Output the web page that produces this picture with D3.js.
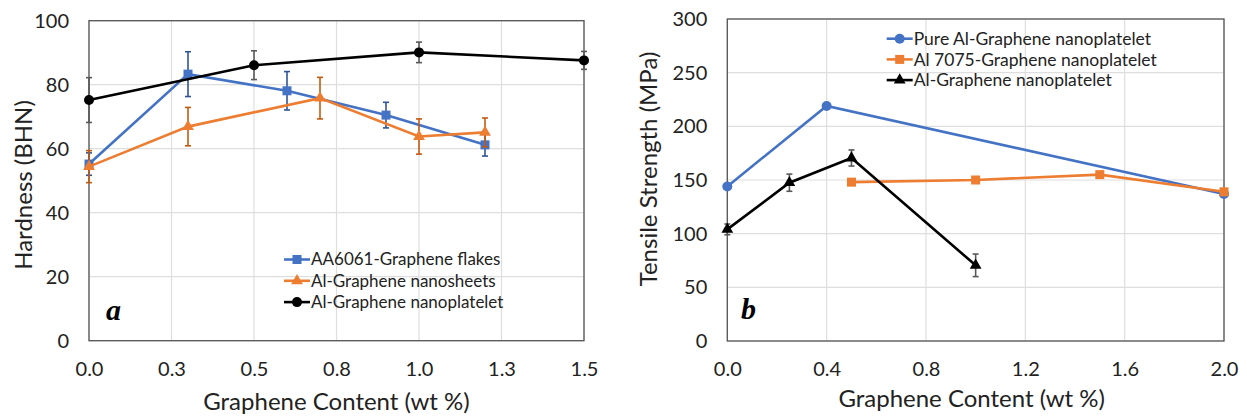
<!DOCTYPE html>
<html>
<head>
<meta charset="utf-8">
<script src="https://cdn.jsdelivr.net/npm/d3@7"></script>
<style>
  body { margin: 0; background: #fff; }
  svg { display: block; font-family: Lato, "Open Sans", sans-serif; }
</style>
</head>
<body>
<svg width="1247" height="419"></svg>
<script>
// panel a - hardness
var hardTicks = [0, 0.25, 0.5, 0.75, 1.0, 1.25, 1.5];
var hardTickLabels = ["0.0", "0.3", "0.5", "0.8", "1.0", "1.3", "1.5"];
var hardYTicks = [0, 20, 40, 60, 80, 100];

var flakesX = [0, 0.3, 0.6, 0.9, 1.2];
var flakesY = [55.2, 83.3, 78.1, 70.5, 61.2];
var flakesErr = [3.5, 7, 6, 4, 3.5];

var sheetsX = [0, 0.3, 0.7, 1.0, 1.2];
var sheetsY = [54.4, 66.9, 75.8, 63.8, 65.1];
var sheetsErr = [5, 6, 6.5, 5.5, 4.5];

var plateletX = [0, 0.5, 1.0, 1.5];
var plateletY = [75.2, 86.1, 90.1, 87.6];
var plateletErr = [7, 4.5, 3.2, 2.8];

// panel b - tensile strength
var tensTicks = [0, 0.4, 0.8, 1.2, 1.6, 2.0];
var tensTickLabels = ["0.0", "0.4", "0.8", "1.2", "1.6", "2.0"];
var tensYTicks = [0, 50, 100, 150, 200, 250, 300];

var pureX = [0, 0.4, 2.0];
var pureY = [144, 219, 137];

var a7075X = [0.5, 1.0, 1.5, 2.0];
var a7075Y = [148, 150, 155, 139];

var alX = [0, 0.25, 0.5, 1.0];
var alY = [104, 147.5, 170.5, 70.5];
var alErr = [5, 8, 7.5, 10.5];

var BLUE = "#4472C4", ORANGE = "#ED7D31", BLACK = "#000";

var svg = d3.select("svg");

function pts(xs, ys, es) {
    return xs.map((x, i) => ({ x: x, y: ys[i], e: es ? es[i] : null }));
}

function marker(g, shape, color, cx, cy) {
    if (shape == "square") {
        g.append("rect").attr("x", cx - 4.5).attr("y", cy - 4.5)
            .attr("width", 9).attr("height", 9).attr("fill", color);
    } else if (shape == "circle") {
        g.append("circle").attr("cx", cx).attr("cy", cy).attr("r", 5).attr("fill", color);
    } else {
        g.append("path").attr("transform", `translate(${cx},${cy})`)
            .attr("d", d3.symbol(d3.symbolTriangle, 60)()).attr("fill", color);
    }
}

function drawPanel(cfg) {
    var x = d3.scaleLinear().domain(cfg.xDomain).range([cfg.left, cfg.right]);
    var y = d3.scaleLinear().domain(cfg.yDomain).range([cfg.bottom, cfg.top]);
    var g = svg.append("g");

    // gridlines
    g.append("g").selectAll("line").data(cfg.xTicks).join("line")
        .attr("x1", d => x(d)).attr("x2", d => x(d))
        .attr("y1", cfg.top).attr("y2", cfg.bottom)
        .attr("stroke", "#dedede").attr("stroke-width", 1.2);
    g.append("g").selectAll("line").data(cfg.yTicks).join("line")
        .attr("x1", cfg.left).attr("x2", cfg.right)
        .attr("y1", d => y(d)).attr("y2", d => y(d))
        .attr("stroke", "#dedede").attr("stroke-width", 1.2);

    // axes (labels only, Excel style)
    var xAxis = d3.axisBottom(x).tickValues(cfg.xTicks).tickSize(0).tickPadding(21)
        .tickFormat((d, i) => cfg.xTickLabels[i]);
    g.append("g").attr("transform", `translate(0,${cfg.bottom})`).call(xAxis)
        .call(a => a.select(".domain").remove())
        .selectAll("text").attr("font-size", 20).attr("fill", "#222").attr("font-family", "Lato");
    var yAxis = d3.axisLeft(y).tickValues(cfg.yTicks).tickSize(0).tickPadding(20);
    g.append("g").attr("transform", `translate(${cfg.left},0)`).call(yAxis)
        .call(a => a.select(".domain").remove())
        .selectAll("text").attr("font-size", 20).attr("fill", "#222").attr("font-family", "Lato");

    // frame
    g.append("rect").attr("x", cfg.left).attr("y", cfg.top)
        .attr("width", cfg.right - cfg.left).attr("height", cfg.bottom - cfg.top)
        .attr("fill", "none").attr("stroke", "#555").attr("stroke-width", 1.3);

    // series
    var line = d3.line().x(d => x(d.x)).y(d => y(d.y));
    cfg.series.forEach(s => {
        var data = pts(s.xs, s.ys, s.errs);
        var sg = g.append("g");
        if (s.errs) {
            data.forEach(d => {
                var eg = sg.append("g").attr("stroke", s.errColor).attr("stroke-width", 1.6);
                eg.append("line").attr("x1", x(d.x)).attr("x2", x(d.x))
                    .attr("y1", y(d.y - d.e)).attr("y2", y(d.y + d.e));
                [d.y - d.e, d.y + d.e].forEach(v => {
                    eg.append("line").attr("x1", x(d.x) - 3).attr("x2", x(d.x) + 3)
                        .attr("y1", y(v)).attr("y2", y(v));
                });
            });
        }
        sg.append("path").datum(data).attr("d", line)
            .attr("fill", "none").attr("stroke", s.color).attr("stroke-width", 2.6);
        data.forEach(d => marker(sg, s.shape, s.color, x(d.x), y(d.y)));
    });

    // legend
    cfg.series.forEach((s, i) => {
        var ly = cfg.legendY + i * cfg.legendStep;
        var lg = g.append("g");
        lg.append("line").attr("x1", cfg.legendX).attr("x2", cfg.legendX + 26)
            .attr("y1", ly).attr("y2", ly).attr("stroke", s.color).attr("stroke-width", 2.6);
        marker(lg, s.shape, s.color, cfg.legendX + 13, ly);
        lg.append("text").attr("x", cfg.legendX + 27).attr("y", ly)
            .attr("dy", "0.35em").attr("font-size", cfg.legendFont).attr("fill", "#222")
            .text(s.name);
    });

    // axis titles
    g.append("text").attr("x", (cfg.left + cfg.right) / 2 + cfg.xTitleDx).attr("y", cfg.xTitleY)
        .attr("text-anchor", "middle").attr("font-size", 24).attr("fill", "#222")
        .text("Graphene Content (wt %)");
    g.append("text")
        .attr("transform", `translate(${cfg.yTitleX},${cfg.yTitleY}) rotate(-90)`)
        .attr("text-anchor", "middle").attr("font-size", 24).attr("fill", "#222")
        .text(cfg.yTitle);

    // panel letter
    g.append("text").attr("x", cfg.letterX).attr("y", cfg.letterY)
        .attr("font-family", "Liberation Serif").attr("font-weight", "bold").attr("font-style", "italic")
        .attr("font-size", 30).attr("fill", "#000").text(cfg.letter);
}

drawPanel({
    left: 89, right: 584, top: 20.7, bottom: 340.7,
    xDomain: [0, 1.5], yDomain: [0, 100],
    xTicks: hardTicks, xTickLabels: hardTickLabels, yTicks: hardYTicks,
    series: [
        { name: "AA6061-Graphene flakes", xs: flakesX, ys: flakesY, errs: flakesErr, color: BLUE, errColor: "#2F5597", shape: "square" },
        { name: "Al-Graphene nanosheets", xs: sheetsX, ys: sheetsY, errs: sheetsErr, color: ORANGE, errColor: "#C55A11", shape: "triangle" },
        { name: "Al-Graphene nanoplatelet", xs: plateletX, ys: plateletY, errs: plateletErr, color: BLACK, errColor: "#595959", shape: "circle" }
    ],
    legendX: 284, legendY: 259.5, legendStep: 21.3, legendFont: 17,
    xTitleDx: 0, xTitleY: 410,
    yTitle: "Hardness (BHN)", yTitleX: 32, yTitleY: 185,
    letter: "a", letterX: 106, letterY: 320
});

drawPanel({
    left: 727.3, right: 1224, top: 19, bottom: 341,
    xDomain: [0, 2.0], yDomain: [0, 300],
    xTicks: tensTicks, xTickLabels: tensTickLabels, yTicks: tensYTicks,
    series: [
        { name: "Pure Al-Graphene nanoplatelet", xs: pureX, ys: pureY, errs: null, color: BLUE, shape: "circle" },
        { name: "Al 7075-Graphene nanoplatelet", xs: a7075X, ys: a7075Y, errs: null, color: ORANGE, shape: "square" },
        { name: "Al-Graphene nanoplatelet", xs: alX, ys: alY, errs: alErr, color: BLACK, errColor: "#595959", shape: "triangle" }
    ],
    legendX: 886.7, legendY: 38.7, legendStep: 20.7, legendFont: 17.5,
    xTitleDx: -4, xTitleY: 407,
    yTitle: "Tensile Strength (MPa)", yTitleX: 657, yTitleY: 169,
    letter: "b", letterX: 741, letterY: 319
});
</script>
</body>
</html>
